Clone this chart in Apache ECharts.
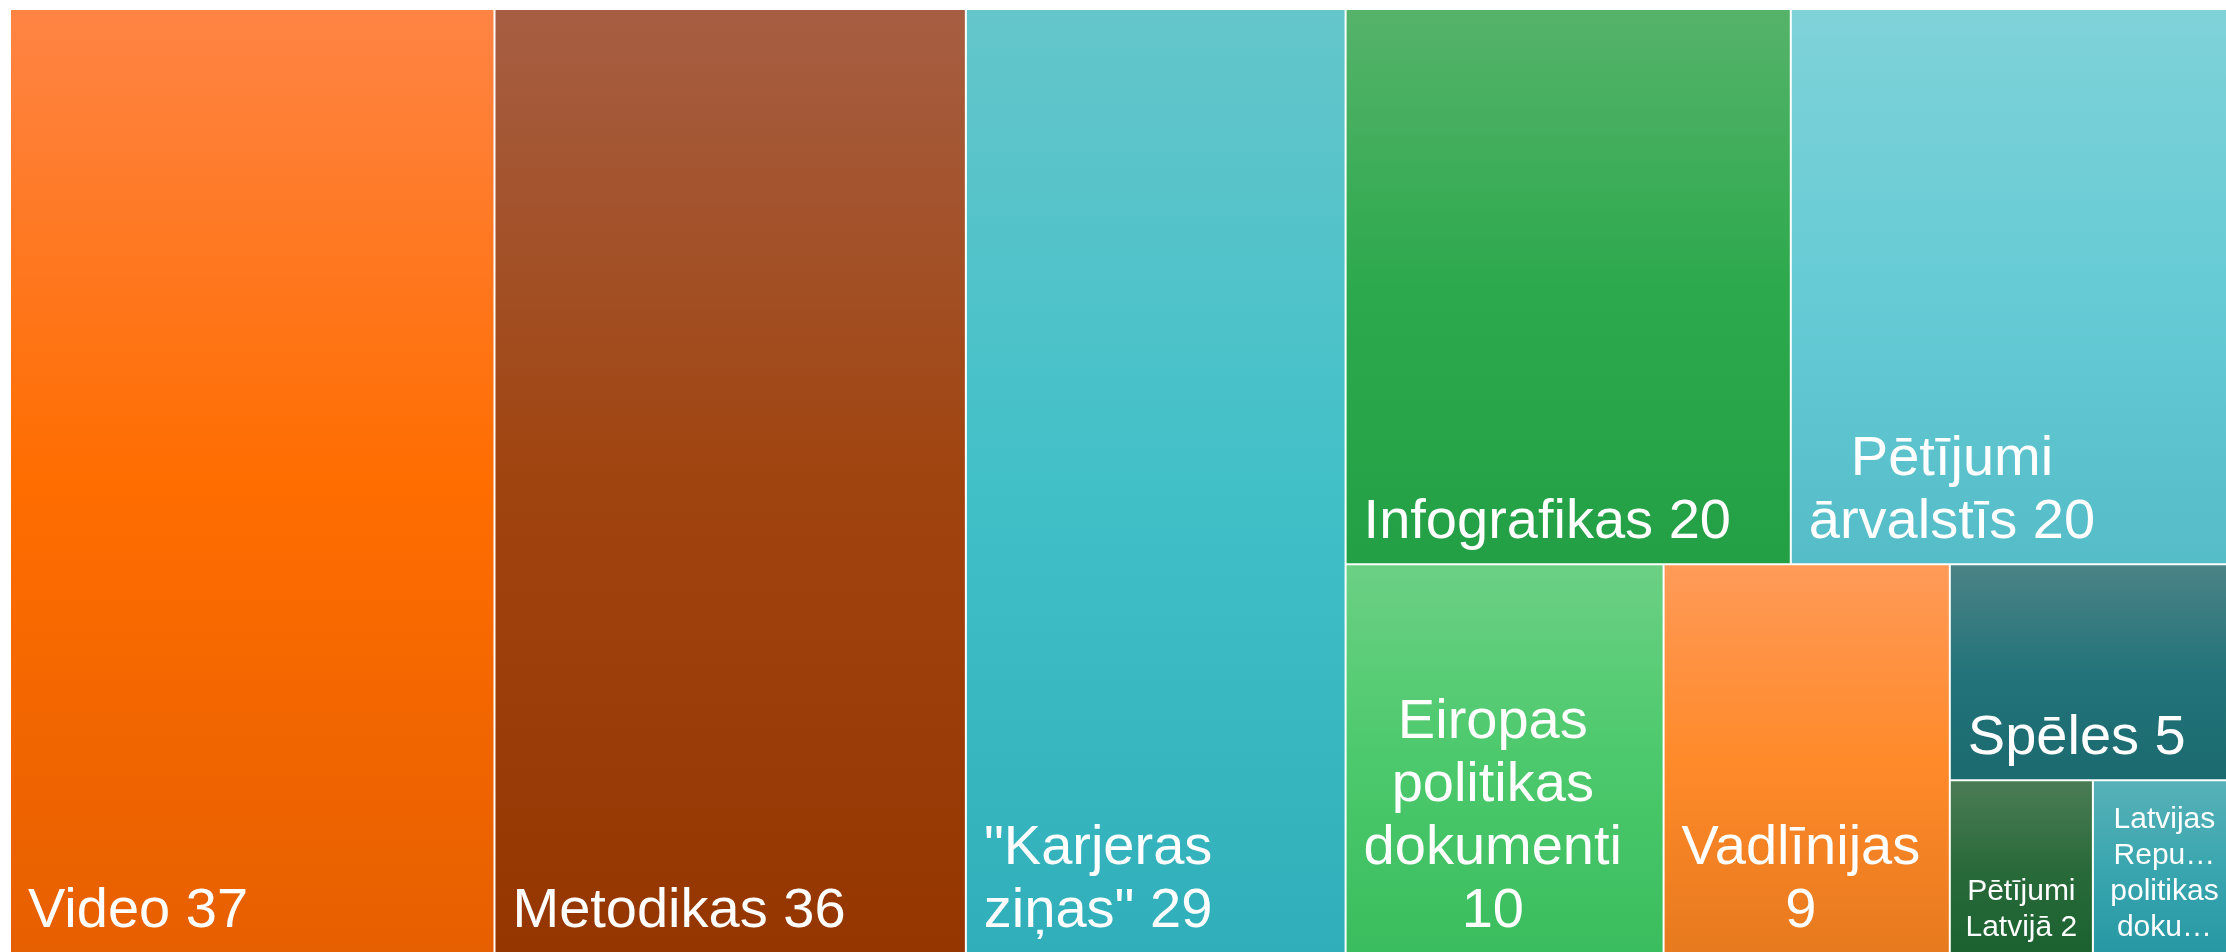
<!DOCTYPE html>
<html>
<head>
<meta charset="utf-8">
<script src="https://cdn.jsdelivr.net/npm/echarts@6/dist/echarts.min.js"></script>
<style>
  html, body { margin: 0; padding: 0; background: #fff; }
  #main { width: 2226px; height: 952px; }
</style>
</head>
<body>
<div id="main"></div>
<script>
// kategorijas un to skaits
const names = [
  'Video',
  'Metodikas',
  '"Karjeras ziņas"',
  'Infografikas',
  'Pētījumi ārvalstīs',
  'Eiropas politikas dokumenti',
  'Vadlīnijas',
  'Spēles',
  'Pētījumi Latvijā',
  'Latvijas Republikas politikas dokumenti'
];
const values = [37, 36, 29, 20, 20, 10, 9, 5, 2, 2];

// gradienta krāsas: augša / vidus / apakša
const topColors = ['#FF8444', '#A65E42', '#64C6CB', '#55B36A', '#7FD2D8', '#6BD084', '#FF9A58', '#4B8386', '#4B7C55', '#57B1B8'];
const midColors = ['#FF6D00', '#A0440F', '#42C0C8', '#2DA94D', '#66CBD5', '#4CC96C', '#FF8A2A', '#23747A', '#2A6A3A', '#3AA6AF'];
const bottomColors = ['#E65F00', '#953600', '#30AFBA', '#239F45', '#55BDC8', '#3ABD5E', '#E77A1E', '#1A6A70', '#1B6230', '#2798A4'];

const FONT = '"Liberation Sans", Arial, sans-serif';

let ctx = document.createElement('canvas').getContext('2d');
let textWidth = (s, size) => {
  ctx.font = size + 'px ' + FONT;
  return ctx.measureText(s).width;
};

// vārds par garu -> nogriež ar "…"
let fitLine = (s, size, maxW) => {
  if (textWidth(s, size) <= maxW) return s;
  let t = s;
  while (t.length > 1 && textWidth(t + '…', size) > maxW) t = t.slice(0, -1);
  return t + '…';
};

let wrapLabel = (str, size, maxW, maxLines) => {
  let lines = [];
  let cur = '';
  str.split(' ').forEach((w) => {
    let t = cur ? cur + ' ' + w : w;
    if (cur && textWidth(t, size) > maxW) {
      lines.push(cur);
      cur = w;
    } else {
      cur = t;
    }
  });
  if (cur) lines.push(cur);
  return lines.slice(0, maxLines).map((l) => fitLine(l, size, maxW));
};

let buildItems = (sizes) => names.map((name, i) => {
  let item = {
    name: name,
    value: values[i],
    itemStyle: {
      color: new echarts.graphic.LinearGradient(0, 0, 0, 1, [
        { offset: 0, color: topColors[i] },
        { offset: 0.5, color: midColors[i] },
        { offset: 1, color: bottomColors[i] }
      ])
    }
  };
  let lay = sizes && sizes[name];
  if (lay) {
    let small = lay.width < 200;
    let size = small ? 30 : 56;
    let lh = small ? 36 : 63;
    let pad = small ? 12 : 17;
    let lines = wrapLabel(name + ' ' + values[i], size, lay.width - 2 * pad, Math.floor((lay.height - 20) / lh));
    let blockW = Math.max(...lines.map((l) => textWidth(l, size)));
    let x = small ? lay.width / 2 : 17 + blockW / 2;
    item.label = {
      formatter: lines.join('\n'),
      position: [x, lay.height - (small ? 6 : 9)],
      align: 'center',
      verticalAlign: 'bottom',
      fontSize: size,
      lineHeight: lh
    };
  }
  return item;
});

let chart = echarts.init(document.getElementById('main'));
let option = {
  animation: false,
  series: [
    {
      type: 'treemap',
      left: 11,
      top: 10,
      width: 2224,
      height: 942,
      squareRatio: 0.7,
      sort: false,
      roam: false,
      nodeClick: false,
      silent: true,
      breadcrumb: { show: false },
      itemStyle: {
        borderWidth: 0,
        gapWidth: 2,
        borderColor: '#fff'
      },
      label: {
        show: true,
        color: '#fff',
        fontFamily: FONT,
        fontSize: 56,
        padding: 0,
        overflow: 'none'
      },
      data: buildItems(null)
    }
  ]
};
chart.setOption(option);

// otrais gājiens: izmēri no izkārtojuma -> etiķetes
let sizes = {};
let seriesData = chart.getModel().getSeriesByIndex(0).getData();
for (let i = 0; i < seriesData.count(); i++) {
  let lay = seriesData.getItemLayout(i);
  if (lay) sizes[seriesData.getName(i)] = lay;
}
chart.setOption({ series: [{ data: buildItems(sizes) }] });
</script>
</body>
</html>
